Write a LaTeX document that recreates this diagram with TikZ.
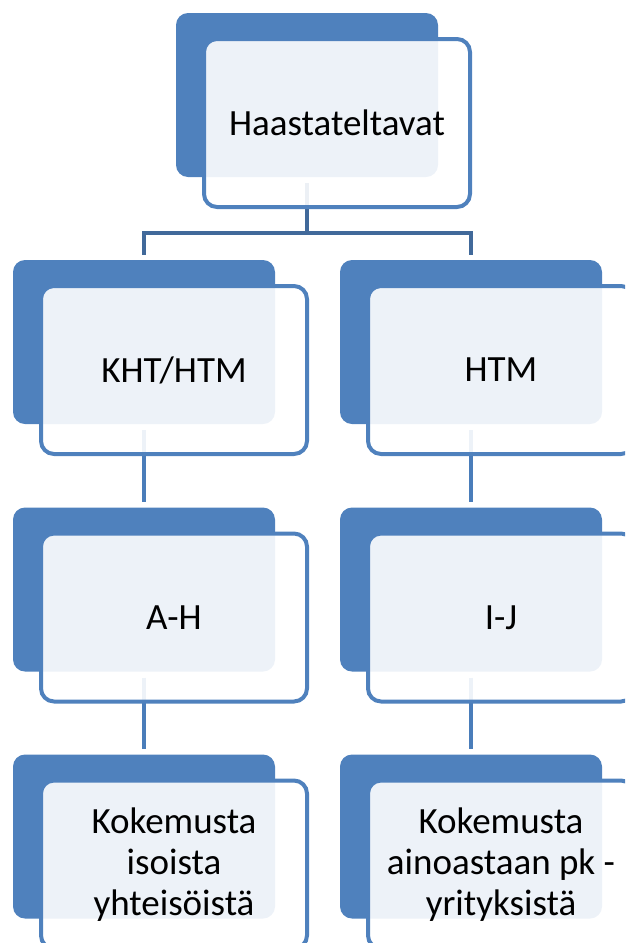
\documentclass[tikz,border=0pt]{standalone}
\usepackage{fontspec}
\setmainfont{Carlito}
\usetikzlibrary{calc}
\definecolor{accent}{HTML}{4F81BD}
\definecolor{treeline}{HTML}{41699A}
\definecolor{colline}{HTML}{4A7DBA}
\tikzset{
  backbox/.style={rounded corners=12pt, fill=accent, draw=none,
    minimum width=262pt, minimum height=164pt, inner sep=0pt},
  frontbox/.style={rounded corners=13pt, draw=accent, line width=4pt,
    fill=white, fill opacity=0.9, text opacity=1, text=black,
    minimum width=266pt, minimum height=168pt, inner sep=0pt,
    align=center, font=\fontsize{37}{41}\selectfont},
  treelink/.style={draw=treeline, line width=4.5pt, line join=miter},
  collink/.style={draw=colline, line width=4.5pt},
}
\begin{document}
\begin{tikzpicture}[x=1pt,y=-1pt]
  \useasboundingbox (0,0) rectangle (625,943);
  \clip (0,0) rectangle (625,943);

  % solid back panels
  \node[backbox] (d0) at (307,95) {};
  \node[backbox] (a1) at (144,342) {};
  \node[backbox] (a2) at (144,589.5) {};
  \node[backbox] (a3) at (144,836.5) {};
  \node[backbox] (b1) at (471,342) {};
  \node[backbox] (b2) at (471,589.5) {};
  \node[backbox] (b3) at (471,836.5) {};

  % connectors
  \coordinate (fork) at (307,233);
  \draw[treelink, shorten <=6pt] (d0.south) -- (fork);
  \draw[treelink, shorten >=5pt] (fork) -| (a1.north);
  \draw[treelink, shorten >=5pt] (fork) -| (b1.north);
  \draw[collink, shorten <=6pt, shorten >=5pt] (a1.south) -- (a2.north);
  \draw[collink, shorten <=6pt, shorten >=5pt] (a2.south) -- (a3.north);
  \draw[collink, shorten <=6pt, shorten >=5pt] (b1.south) -- (b2.north);
  \draw[collink, shorten <=6pt, shorten >=5pt] (b2.south) -- (b3.north);

  % translucent front panels with the labels
  \node[frontbox] (f0) at ($(d0)+(30,28)$) {Haastateltavat};
  \node[frontbox] (fa1) at ($(a1)+(30,28)$) {KHT/HTM};
  \node[frontbox] (fa2) at ($(a2)+(30,28)$) {A-H};
  \node[frontbox] (fa3) at ($(a3)+(30,28)$) {Kokemusta\\isoista\\yhteisöistä};
  \node[frontbox] (fb1) at ($(b1)+(30,28)$) {HTM};
  \node[frontbox] (fb2) at ($(b2)+(30,28)$) {I-J};
  \node[frontbox] (fb3) at ($(b3)+(30,28)$) {Kokemusta\\ainoastaan pk -\\yrityksistä};
\end{tikzpicture}
\end{document}
